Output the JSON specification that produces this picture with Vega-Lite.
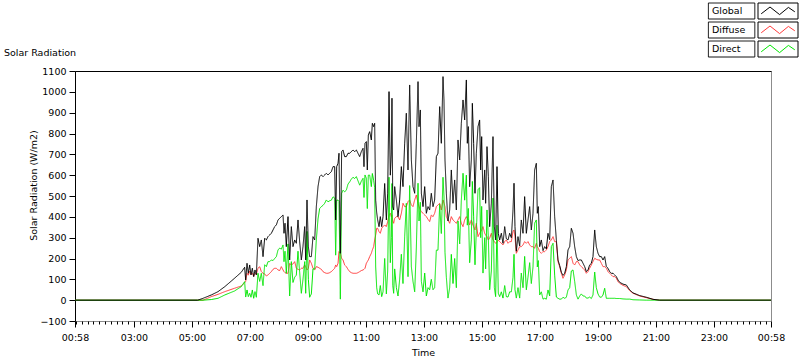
{
"$schema": "https://vega.github.io/schema/vega-lite/v6.json",
"width": 696,
"height": 250,
"autosize": {"type": "none"},
"padding": {"left": 75, "top": 71, "right": 29, "bottom": 40},
"background": "white",
"title": {"text": "Solar Radiation", "anchor": "start", "frame": "group", "dx": -71, "offset": 0, "dy": 55, "fontSize": 9.5, "fontWeight": "normal", "font": "DejaVu Sans", "color": "#000"},
"data": {"values": [
{"t":58,"Global":0,"Diffuse":0,"Direct":0},
{"t":312,"Global":0,"Diffuse":0,"Direct":0},
{"t":323,"Global":9,"Diffuse":0,"Direct":0},
{"t":340,"Global":25,"Diffuse":17,"Direct":3},
{"t":354,"Global":41,"Diffuse":28,"Direct":9},
{"t":368,"Global":65,"Diffuse":41,"Direct":25},
{"t":388,"Global":105,"Diffuse":57,"Direct":44},
{"t":402,"Global":134,"Diffuse":68,"Direct":65},
{"t":409,"Global":158,"Diffuse":84,"Direct":89},
{"t":411.1,"Global":97,"Diffuse":90,"Direct":15},
{"t":413.9,"Global":177,"Diffuse":129,"Direct":49},
{"t":416.6,"Global":129,"Diffuse":120,"Direct":17},
{"t":419.4,"Global":169,"Diffuse":140,"Direct":33},
{"t":422.1,"Global":121,"Diffuse":125,"Direct":14},
{"t":424.9,"Global":153,"Diffuse":129,"Direct":49},
{"t":427.7,"Global":113,"Diffuse":115,"Direct":9},
{"t":430.4,"Global":145,"Diffuse":129,"Direct":41},
{"t":433.2,"Global":121,"Diffuse":125,"Direct":14},
{"t":436.6,"Global":297,"Diffuse":153,"Direct":129},
{"t":440.1,"Global":257,"Diffuse":161,"Direct":90},
{"t":443.5,"Global":289,"Diffuse":137,"Direct":129},
{"t":447.0,"Global":209,"Diffuse":129,"Direct":70},
{"t":450.4,"Global":297,"Diffuse":126,"Direct":170},
{"t":453.9,"Global":289,"Diffuse":116,"Direct":161},
{"t":457.3,"Global":305,"Diffuse":121,"Direct":185},
{"t":460.8,"Global":313,"Diffuse":129,"Direct":185},
{"t":464.2,"Global":321,"Diffuse":137,"Direct":193},
{"t":467.7,"Global":337,"Diffuse":148,"Direct":190},
{"t":471.1,"Global":353,"Diffuse":153,"Direct":200},
{"t":474.6,"Global":361,"Diffuse":153,"Direct":209},
{"t":478.0,"Global":385,"Diffuse":145,"Direct":241},
{"t":481.5,"Global":393,"Diffuse":142,"Direct":250},
{"t":484.9,"Global":401,"Diffuse":161,"Direct":245},
{"t":488.4,"Global":409,"Diffuse":145,"Direct":265},
{"t":490.4,"Global":321,"Diffuse":137,"Direct":185},
{"t":492.5,"Global":369,"Diffuse":132,"Direct":235},
{"t":495.2,"Global":257,"Diffuse":129,"Direct":129},
{"t":498.7,"Global":401,"Diffuse":129,"Direct":270},
{"t":502.1,"Global":193,"Diffuse":177,"Direct":20},
{"t":505.6,"Global":353,"Diffuse":169,"Direct":185},
{"t":509.0,"Global":257,"Diffuse":174,"Direct":85},
{"t":512.5,"Global":289,"Diffuse":185,"Direct":110},
{"t":515.9,"Global":273,"Diffuse":153,"Direct":120},
{"t":519.4,"Global":385,"Diffuse":148,"Direct":235},
{"t":522.8,"Global":281,"Diffuse":145,"Direct":135},
{"t":526.3,"Global":193,"Diffuse":153,"Direct":33},
{"t":529.7,"Global":257,"Diffuse":153,"Direct":100},
{"t":533.2,"Global":353,"Diffuse":169,"Direct":185},
{"t":535.3,"Global":193,"Diffuse":161,"Direct":33},
{"t":538.0,"Global":481,"Diffuse":145,"Direct":330},
{"t":540.8,"Global":257,"Diffuse":153,"Direct":100},
{"t":543.5,"Global":209,"Diffuse":193,"Direct":14},
{"t":547.0,"Global":209,"Diffuse":177,"Direct":30},
{"t":550.4,"Global":305,"Diffuse":153,"Direct":150},
{"t":553.9,"Global":289,"Diffuse":145,"Direct":150},
{"t":557.3,"Global":449,"Diffuse":161,"Direct":290},
{"t":560.8,"Global":545,"Diffuse":158,"Direct":390},
{"t":564.2,"Global":593,"Diffuse":153,"Direct":440},
{"t":567.7,"Global":601,"Diffuse":148,"Direct":449},
{"t":571.1,"Global":593,"Diffuse":137,"Direct":455},
{"t":574.6,"Global":601,"Diffuse":132,"Direct":465},
{"t":578.0,"Global":609,"Diffuse":129,"Direct":481},
{"t":581.5,"Global":601,"Diffuse":129,"Direct":472},
{"t":584.9,"Global":609,"Diffuse":132,"Direct":477},
{"t":588.4,"Global":617,"Diffuse":137,"Direct":480},
{"t":591.8,"Global":641,"Diffuse":145,"Direct":496},
{"t":595.3,"Global":641,"Diffuse":153,"Direct":490},
{"t":597.3,"Global":385,"Diffuse":169,"Direct":216},
{"t":599.4,"Global":641,"Diffuse":161,"Direct":480},
{"t":602.2,"Global":657,"Diffuse":177,"Direct":480},
{"t":604.2,"Global":705,"Diffuse":233,"Direct":475},
{"t":607.0,"Global":225,"Diffuse":225,"Direct":5},
{"t":609.7,"Global":713,"Diffuse":201,"Direct":512},
{"t":612.5,"Global":721,"Diffuse":193,"Direct":528},
{"t":615.9,"Global":689,"Diffuse":169,"Direct":520},
{"t":619.4,"Global":689,"Diffuse":161,"Direct":528},
{"t":622.8,"Global":705,"Diffuse":148,"Direct":557},
{"t":626.3,"Global":705,"Diffuse":137,"Direct":568},
{"t":629.7,"Global":713,"Diffuse":132,"Direct":581},
{"t":633.2,"Global":721,"Diffuse":129,"Direct":590},
{"t":636.6,"Global":713,"Diffuse":129,"Direct":584},
{"t":640.1,"Global":721,"Diffuse":129,"Direct":593},
{"t":643.5,"Global":705,"Diffuse":132,"Direct":573},
{"t":647.0,"Global":689,"Diffuse":137,"Direct":552},
{"t":650.4,"Global":713,"Diffuse":142,"Direct":571},
{"t":653.9,"Global":729,"Diffuse":145,"Direct":585},
{"t":655.9,"Global":641,"Diffuse":148,"Direct":493},
{"t":658.0,"Global":753,"Diffuse":153,"Direct":601},
{"t":660.8,"Global":761,"Diffuse":177,"Direct":585},
{"t":662.8,"Global":625,"Diffuse":185,"Direct":440},
{"t":664.9,"Global":793,"Diffuse":193,"Direct":600},
{"t":667.7,"Global":809,"Diffuse":209,"Direct":600},
{"t":671.1,"Global":769,"Diffuse":225,"Direct":545},
{"t":673.2,"Global":849,"Diffuse":241,"Direct":608},
{"t":675.9,"Global":833,"Diffuse":257,"Direct":576},
{"t":678.0,"Global":849,"Diffuse":289,"Direct":540},
{"t":680.1,"Global":480,"Diffuse":313,"Direct":160},
{"t":682.2,"Global":420,"Diffuse":345,"Direct":60},
{"t":684.2,"Global":385,"Diffuse":345,"Direct":30},
{"t":687.0,"Global":353,"Diffuse":329,"Direct":25},
{"t":689.7,"Global":401,"Diffuse":321,"Direct":70},
{"t":692.5,"Global":353,"Diffuse":345,"Direct":17},
{"t":695.3,"Global":401,"Diffuse":353,"Direct":40},
{"t":698.7,"Global":560,"Diffuse":361,"Direct":200},
{"t":702.2,"Global":385,"Diffuse":353,"Direct":30},
{"t":704.9,"Global":513,"Diffuse":377,"Direct":140},
{"t":707.7,"Global":1001,"Diffuse":409,"Direct":590},
{"t":710.4,"Global":600,"Diffuse":417,"Direct":180},
{"t":712.5,"Global":700,"Diffuse":400,"Direct":300},
{"t":713.8,"Global":969,"Diffuse":410,"Direct":560},
{"t":715.5,"Global":450,"Diffuse":380,"Direct":70},
{"t":717.3,"Global":433,"Diffuse":369,"Direct":33},
{"t":719.4,"Global":545,"Diffuse":393,"Direct":150},
{"t":722.9,"Global":481,"Diffuse":401,"Direct":60},
{"t":726.3,"Global":401,"Diffuse":401,"Direct":20},
{"t":729.7,"Global":481,"Diffuse":385,"Direct":100},
{"t":733.2,"Global":641,"Diffuse":417,"Direct":220},
{"t":736.6,"Global":545,"Diffuse":465,"Direct":80},
{"t":740.1,"Global":753,"Diffuse":449,"Direct":305},
{"t":743.5,"Global":897,"Diffuse":449,"Direct":465},
{"t":747.0,"Global":625,"Diffuse":473,"Direct":113},
{"t":750.4,"Global":1033,"Diffuse":481,"Direct":550},
{"t":753.9,"Global":673,"Diffuse":457,"Direct":161},
{"t":757.3,"Global":545,"Diffuse":449,"Direct":90},
{"t":760.8,"Global":513,"Diffuse":481,"Direct":40},
{"t":764.2,"Global":753,"Diffuse":505,"Direct":250},
{"t":767.7,"Global":1049,"Diffuse":465,"Direct":561},
{"t":769.8,"Global":833,"Diffuse":449,"Direct":380},
{"t":772.5,"Global":913,"Diffuse":433,"Direct":470},
{"t":774.6,"Global":513,"Diffuse":425,"Direct":90},
{"t":778.0,"Global":449,"Diffuse":417,"Direct":40},
{"t":781.5,"Global":545,"Diffuse":409,"Direct":130},
{"t":784.9,"Global":417,"Diffuse":401,"Direct":20},
{"t":788.4,"Global":449,"Diffuse":388,"Direct":60},
{"t":791.8,"Global":433,"Diffuse":377,"Direct":50},
{"t":795.2,"Global":513,"Diffuse":409,"Direct":100},
{"t":798.7,"Global":449,"Diffuse":401,"Direct":50},
{"t":802.1,"Global":481,"Diffuse":417,"Direct":60},
{"t":805.6,"Global":689,"Diffuse":449,"Direct":240},
{"t":809.0,"Global":705,"Diffuse":457,"Direct":240},
{"t":812.5,"Global":929,"Diffuse":465,"Direct":460},
{"t":815.9,"Global":753,"Diffuse":433,"Direct":320},
{"t":819.4,"Global":1073,"Diffuse":481,"Direct":590},
{"t":821.4,"Global":961,"Diffuse":465,"Direct":496},
{"t":823.5,"Global":673,"Diffuse":449,"Direct":230},
{"t":826.3,"Global":513,"Diffuse":401,"Direct":110},
{"t":829.7,"Global":380,"Diffuse":385,"Direct":10},
{"t":833.2,"Global":433,"Diffuse":369,"Direct":60},
{"t":836.6,"Global":625,"Diffuse":401,"Direct":220},
{"t":840.1,"Global":465,"Diffuse":385,"Direct":80},
{"t":843.5,"Global":577,"Diffuse":377,"Direct":200},
{"t":847.0,"Global":433,"Diffuse":369,"Direct":60},
{"t":850.4,"Global":769,"Diffuse":385,"Direct":380},
{"t":853.9,"Global":673,"Diffuse":401,"Direct":270},
{"t":857.3,"Global":849,"Diffuse":369,"Direct":480},
{"t":860.8,"Global":961,"Diffuse":353,"Direct":609},
{"t":864.2,"Global":865,"Diffuse":385,"Direct":480},
{"t":867.7,"Global":1057,"Diffuse":401,"Direct":600},
{"t":869.7,"Global":753,"Diffuse":393,"Direct":360},
{"t":871.8,"Global":833,"Diffuse":385,"Direct":440},
{"t":874.5,"Global":545,"Diffuse":361,"Direct":180},
{"t":878.0,"Global":673,"Diffuse":385,"Direct":290},
{"t":880.1,"Global":945,"Diffuse":369,"Direct":570},
{"t":882.8,"Global":753,"Diffuse":353,"Direct":400},
{"t":885.6,"Global":513,"Diffuse":337,"Direct":170},
{"t":888.3,"Global":705,"Diffuse":369,"Direct":330},
{"t":891.8,"Global":833,"Diffuse":305,"Direct":530},
{"t":895.2,"Global":865,"Diffuse":321,"Direct":540},
{"t":897.3,"Global":625,"Diffuse":329,"Direct":300},
{"t":899.4,"Global":785,"Diffuse":337,"Direct":450},
{"t":902.1,"Global":481,"Diffuse":353,"Direct":130},
{"t":905.6,"Global":625,"Diffuse":321,"Direct":300},
{"t":907.6,"Global":465,"Diffuse":313,"Direct":150},
{"t":910.4,"Global":737,"Diffuse":305,"Direct":433},
{"t":913.2,"Global":593,"Diffuse":289,"Direct":300},
{"t":915.9,"Global":353,"Diffuse":297,"Direct":50},
{"t":919.4,"Global":465,"Diffuse":321,"Direct":140},
{"t":922.8,"Global":785,"Diffuse":289,"Direct":490},
{"t":925.6,"Global":353,"Diffuse":281,"Direct":60},
{"t":928.3,"Global":289,"Diffuse":273,"Direct":17},
{"t":931.1,"Global":641,"Diffuse":276,"Direct":360},
{"t":933.8,"Global":321,"Diffuse":289,"Direct":33},
{"t":936.6,"Global":289,"Diffuse":281,"Direct":17},
{"t":940.1,"Global":321,"Diffuse":273,"Direct":40},
{"t":943.5,"Global":273,"Diffuse":265,"Direct":10},
{"t":947.0,"Global":353,"Diffuse":281,"Direct":70},
{"t":950.4,"Global":295,"Diffuse":289,"Direct":17},
{"t":953.9,"Global":289,"Diffuse":273,"Direct":15},
{"t":957.3,"Global":321,"Diffuse":281,"Direct":40},
{"t":960.8,"Global":300,"Diffuse":281,"Direct":40},
{"t":964.2,"Global":433,"Diffuse":329,"Direct":110},
{"t":966.3,"Global":561,"Diffuse":337,"Direct":220},
{"t":968.3,"Global":353,"Diffuse":305,"Direct":50},
{"t":971.1,"Global":235,"Diffuse":225,"Direct":10},
{"t":974.5,"Global":305,"Diffuse":241,"Direct":60},
{"t":978.0,"Global":260,"Diffuse":257,"Direct":10},
{"t":981.4,"Global":385,"Diffuse":257,"Direct":130},
{"t":984.9,"Global":321,"Diffuse":265,"Direct":60},
{"t":988.3,"Global":497,"Diffuse":281,"Direct":210},
{"t":991.8,"Global":321,"Diffuse":273,"Direct":50},
{"t":995.2,"Global":385,"Diffuse":281,"Direct":110},
{"t":998.7,"Global":449,"Diffuse":265,"Direct":180},
{"t":1002.1,"Global":337,"Diffuse":257,"Direct":80},
{"t":1005.6,"Global":417,"Diffuse":257,"Direct":160},
{"t":1009.0,"Global":625,"Diffuse":249,"Direct":370},
{"t":1012.5,"Global":657,"Diffuse":273,"Direct":385},
{"t":1014.5,"Global":417,"Diffuse":257,"Direct":160},
{"t":1016.6,"Global":449,"Diffuse":249,"Direct":190},
{"t":1019.4,"Global":257,"Diffuse":233,"Direct":25},
{"t":1022.8,"Global":289,"Diffuse":225,"Direct":40},
{"t":1026.3,"Global":238,"Diffuse":233,"Direct":5},
{"t":1029.7,"Global":257,"Diffuse":233,"Direct":9},
{"t":1033.2,"Global":246,"Diffuse":241,"Direct":5},
{"t":1036.6,"Global":321,"Diffuse":257,"Direct":49},
{"t":1040.1,"Global":290,"Diffuse":281,"Direct":20},
{"t":1043.5,"Global":545,"Diffuse":289,"Direct":257},
{"t":1047.0,"Global":577,"Diffuse":305,"Direct":273},
{"t":1050.4,"Global":401,"Diffuse":281,"Direct":120},
{"t":1053.9,"Global":289,"Diffuse":281,"Direct":15},
{"t":1057.3,"Global":193,"Diffuse":185,"Direct":9},
{"t":1060.8,"Global":166,"Diffuse":161,"Direct":5},
{"t":1064.2,"Global":134,"Diffuse":129,"Direct":5},
{"t":1067.7,"Global":119,"Diffuse":105,"Direct":14},
{"t":1071.1,"Global":129,"Diffuse":121,"Direct":9},
{"t":1074.6,"Global":161,"Diffuse":145,"Direct":14},
{"t":1078.0,"Global":241,"Diffuse":193,"Direct":49},
{"t":1081.5,"Global":257,"Diffuse":201,"Direct":60},
{"t":1084.9,"Global":345,"Diffuse":209,"Direct":140},
{"t":1088.4,"Global":321,"Diffuse":177,"Direct":145},
{"t":1091.8,"Global":257,"Diffuse":169,"Direct":90},
{"t":1095.3,"Global":209,"Diffuse":185,"Direct":25},
{"t":1098.7,"Global":190,"Diffuse":185,"Direct":5},
{"t":1102.2,"Global":193,"Diffuse":169,"Direct":20},
{"t":1105.6,"Global":193,"Diffuse":161,"Direct":30},
{"t":1109.1,"Global":177,"Diffuse":153,"Direct":20},
{"t":1112.5,"Global":161,"Diffuse":145,"Direct":20},
{"t":1116.0,"Global":137,"Diffuse":129,"Direct":10},
{"t":1119.4,"Global":145,"Diffuse":137,"Direct":10},
{"t":1122.8,"Global":169,"Diffuse":153,"Direct":15},
{"t":1126.3,"Global":177,"Diffuse":169,"Direct":8},
{"t":1129.7,"Global":209,"Diffuse":185,"Direct":25},
{"t":1133.2,"Global":337,"Diffuse":201,"Direct":135},
{"t":1136.6,"Global":257,"Diffuse":196,"Direct":60},
{"t":1140.1,"Global":225,"Diffuse":193,"Direct":30},
{"t":1143.5,"Global":209,"Diffuse":193,"Direct":15},
{"t":1147.0,"Global":209,"Diffuse":177,"Direct":14},
{"t":1150.4,"Global":193,"Diffuse":161,"Direct":25},
{"t":1153.9,"Global":209,"Diffuse":161,"Direct":57},
{"t":1157.3,"Global":161,"Diffuse":153,"Direct":9},
{"t":1160.8,"Global":153,"Diffuse":137,"Direct":9},
{"t":1164.2,"Global":137,"Diffuse":129,"Direct":9},
{"t":1167.7,"Global":129,"Diffuse":121,"Direct":9},
{"t":1171.1,"Global":129,"Diffuse":113,"Direct":9},
{"t":1174.6,"Global":121,"Diffuse":113,"Direct":9},
{"t":1178.0,"Global":113,"Diffuse":105,"Direct":8},
{"t":1181.5,"Global":97,"Diffuse":89,"Direct":8},
{"t":1184.9,"Global":86,"Diffuse":81,"Direct":8},
{"t":1191.8,"Global":77,"Diffuse":71,"Direct":6},
{"t":1198.7,"Global":73,"Diffuse":65,"Direct":5},
{"t":1205.6,"Global":49,"Diffuse":46,"Direct":5},
{"t":1212.5,"Global":35,"Diffuse":33,"Direct":2},
{"t":1226.3,"Global":22,"Diffuse":20,"Direct":1},
{"t":1240.1,"Global":14,"Diffuse":12,"Direct":0},
{"t":1253.9,"Global":4,"Diffuse":4,"Direct":0},
{"t":1267.7,"Global":0,"Diffuse":0,"Direct":0},
{"t":1498,"Global":0,"Diffuse":0,"Direct":0}
]},
"transform": [{"fold": ["Diffuse", "Direct", "Global"], "as": ["k", "v"]}],
"mark": {"type": "line", "strokeWidth": 1, "clip": true},
"encoding": {
  "x": {"field": "t", "type": "quantitative",
    "scale": {"domain": [58, 1498], "nice": false, "zero": false},
    "axis": {
      "title": "Time", "titleX": 348, "titleY": 31, "titleBaseline": "middle",
      "values": [58,60,72,84,96,108,120,132,144,156,168,180,192,204,216,228,240,252,264,276,288,300,312,324,336,348,360,372,384,396,408,420,432,444,456,468,480,492,504,516,528,540,552,564,576,588,600,612,624,636,648,660,672,684,696,708,720,732,744,756,768,780,792,804,816,828,840,852,864,876,888,900,912,924,936,948,960,972,984,996,1008,1020,1032,1044,1056,1068,1080,1092,1104,1116,1128,1140,1152,1164,1176,1188,1200,1212,1224,1236,1248,1260,1272,1284,1296,1308,1320,1332,1344,1356,1368,1380,1392,1404,1416,1428,1440,1452,1464,1476,1488,1498],
      "labelExpr": "(datum.value == 58 || datum.value == 1498) ? '00:58' : ((datum.value % 120 == 60 && datum.value > 60) ? ((floor(datum.value/60) < 10 ? '0' : '') + floor(datum.value/60) + ':00') : '')",
      "tickSize": {"condition": {"test": "datum.value == 58 || datum.value == 1498 || (datum.value % 120 == 60 && datum.value > 60)", "value": 6}, "value": 3},
      "labelOverlap": false, "labelFlush": false,
      "labelBaseline": "middle", "labelPadding": 10,
      "domain": false, "grid": false
    }
  },
  "y": {"field": "v", "type": "quantitative",
    "scale": {"domain": [-100, 1100], "nice": false, "zero": false},
    "axis": {
      "title": "Solar Radiation (W/m2)", "titleX": -42, "titleY": 114, "titleAngle": -90, "titleAlign": "center", "titleBaseline": "middle",
      "values": [-100,0,100,200,300,400,500,600,700,800,900,1000,1100],
      "format": "d",
      "tickSize": 6, "labelPadding": 3, "labelFlush": false, "labelOverlap": false,
      "domain": true,
      "grid": true,
      "gridColor": {"condition": {"test": "datum.value == 1100", "value": "#000000"}, "value": "transparent"},
      "gridWidth": 1
    }
  },
  "color": {"field": "k", "type": "nominal",
    "scale": {"domain": ["Global", "Diffuse", "Direct"], "range": ["#000000", "#ff3b3b", "#00e600"]},
    "legend": {
      "title": null, "orient": "none", "legendX": 694.5, "legendY": -68.5, "padding": 0,
      "symbolType": "M-8.7,-1M2.5,1M-2.1,0.35L-1.0,-0.5L0.2,0.45L1.3,-0.45L2.1,0.1",
      "symbolSize": 256, "symbolStrokeWidth": 1, "symbolFillColor": "transparent",
      "labelOffset": -74.5, "labelAlign": "left", "rowPadding": -2.5, "labelFontSize": 9.5, "labelColor": "#000"
    }
  },
  "strokeDash": {"field": "k", "type": "nominal",
    "scale": {"range": [[1, 0], [1, 0], [1, 0]]},
    "legend": {
      "title": null, "orient": "none", "legendX": 694.5, "legendY": -68.5, "padding": 0,
      "symbolType": "M-8.7,-1H-2.9V1H-8.7ZM-2.5,-1H2.5V1H-2.5Z",
      "symbolSize": 256, "symbolStrokeWidth": 1, "symbolStrokeColor": "#000", "symbolFillColor": "transparent",
      "labelExpr": "''", "labelOffset": -74.5, "rowPadding": -2.5, "labelFontSize": 9.5
    }
  }
},
"config": {
  "font": "DejaVu Sans",
  "view": {"stroke": "#8c8c8c", "strokeWidth": 1},
  "axis": {"labelFont": "DejaVu Sans", "labelFontSize": 9.5, "labelColor": "#000", "titleFont": "DejaVu Sans", "titleFontSize": 9.5, "titleFontWeight": "normal", "titleColor": "#000", "tickColor": "#000", "domainColor": "#000"},
  "legend": {"labelFont": "DejaVu Sans"}
}
}
